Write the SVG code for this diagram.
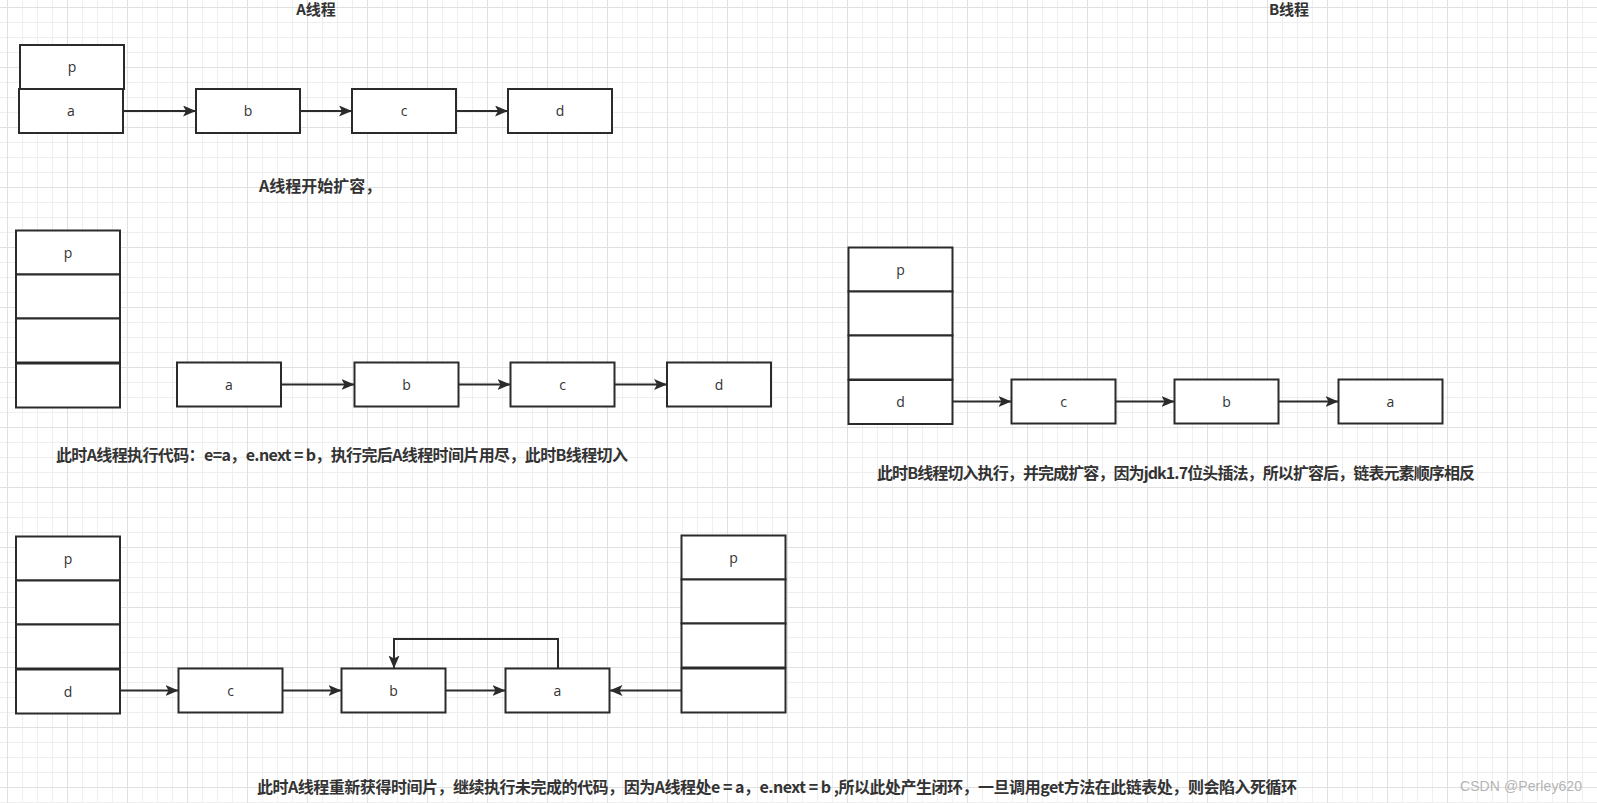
<svg xmlns="http://www.w3.org/2000/svg" width="1597" height="803" viewBox="0 0 1597 803">
<defs>
<pattern id="minor" patternUnits="userSpaceOnUse" x="7" y="7" width="15" height="15">
<rect x="0" y="0" width="1" height="15" fill="#efefef"/>
<rect x="0" y="0" width="15" height="1" fill="#efefef"/>
</pattern>
<pattern id="major" patternUnits="userSpaceOnUse" x="7" y="7" width="60" height="60">
<rect x="0" y="0" width="1" height="60" fill="#e0e0e0"/>
<rect x="0" y="0" width="60" height="1" fill="#e0e0e0"/>
</pattern>
<marker id="arr" markerUnits="userSpaceOnUse" markerWidth="14" markerHeight="12" refX="13" refY="5.5" orient="auto">
<path d="M0,0 L13,5.5 L0,11 L3,5.5 Z" fill="#2b2b2b"/>
</marker>
</defs>
<style>
.box{fill:#ffffff;stroke:#2b2b2b;stroke-width:2}
.lbl{font-family:"Open Sans","Noto Sans CJK SC",sans-serif;font-size:14px;fill:#333333;text-anchor:middle}
.note{font-family:"Noto Sans CJK SC","Liberation Sans",sans-serif;font-size:16px;font-weight:bold;fill:#333333}
.title{font-family:"Noto Sans CJK SC","Liberation Sans",sans-serif;font-size:15px;font-weight:bold;fill:#333333;text-anchor:middle}
.edge{fill:none;stroke:#2b2b2b;stroke-width:2;marker-end:url(#arr)}
.wm{font-family:"Liberation Sans","Noto Sans CJK SC",sans-serif;font-size:14px;fill:#b4b4b4}
</style>
<rect x="0" y="0" width="1597" height="803" fill="#ffffff"/>
<rect x="0" y="0" width="1597" height="803" fill="url(#minor)"/>
<rect x="0" y="0" width="1597" height="803" fill="url(#major)"/>

<!-- Titles and notes -->
<text class="title" x="316" y="15">A线程</text>
<text class="title" x="1289" y="15">B线程</text>
<text class="note" x="259" y="192">A线程开始扩容，</text>
<text class="note" x="56" y="461" textLength="572">此时A线程执行代码：e=a，e.next = b，执行完后A线程时间片用尽，此时B线程切入</text>
<text class="note" x="877" y="479" textLength="598">此时B线程切入执行，并完成扩容，因为jdk1.7位头插法，所以扩容后，链表元素顺序相反</text>
<text class="note" x="257" y="793" textLength="1040">此时A线程重新获得时间片，继续执行未完成的代码，因为A线程处e = a，e.next = b ,所以此处产生闭环，一旦调用get方法在此链表处，则会陷入死循环</text>
<text class="wm" x="1460" y="791" textLength="122">CSDN @Perley620</text>

<!-- Section 1 -->
<g id="s1-p"><rect class="box" x="20" y="45" width="104" height="44"/><text class="lbl" x="72" y="72">p</text></g>
<g id="s1-a"><rect class="box" x="19" y="89" width="104" height="44"/><text class="lbl" x="71" y="116">a</text></g>
<g id="s1-b"><rect class="box" x="196" y="89" width="104" height="44"/><text class="lbl" x="248" y="116">b</text></g>
<g id="s1-c"><rect class="box" x="352" y="89" width="104" height="44"/><text class="lbl" x="404" y="116">c</text></g>
<g id="s1-d"><rect class="box" x="508" y="89" width="104" height="44"/><text class="lbl" x="560" y="116">d</text></g>

<!-- Section 2 -->
<g id="s2-table">
<rect class="box" x="16" y="230.5" width="104" height="44"/>
<rect class="box" x="16" y="274.5" width="104" height="44"/>
<rect class="box" x="16" y="318.5" width="104" height="44"/>
<rect class="box" x="16" y="363.5" width="104" height="44"/>
<text class="lbl" x="68" y="257.5">p</text>
</g>
<g id="s2-a"><rect class="box" x="177" y="362.5" width="104" height="44"/><text class="lbl" x="229" y="389.5">a</text></g>
<g id="s2-b"><rect class="box" x="354.5" y="362.5" width="104" height="44"/><text class="lbl" x="406.5" y="389.5">b</text></g>
<g id="s2-c"><rect class="box" x="510.5" y="362.5" width="104" height="44"/><text class="lbl" x="562.5" y="389.5">c</text></g>
<g id="s2-d"><rect class="box" x="667" y="362.5" width="104" height="44"/><text class="lbl" x="719" y="389.5">d</text></g>

<!-- Section 3 (B thread) -->
<g id="s3-table">
<rect class="box" x="848.5" y="247.5" width="104" height="44"/>
<rect class="box" x="848.5" y="291.5" width="104" height="44"/>
<rect class="box" x="848.5" y="335.5" width="104" height="44"/>
<rect class="box" x="848.5" y="380" width="104" height="44"/>
<text class="lbl" x="900.5" y="274.5">p</text>
<text class="lbl" x="900.5" y="407">d</text>
</g>
<g id="s3-c"><rect class="box" x="1011.5" y="379.5" width="104" height="44"/><text class="lbl" x="1063.5" y="406.5">c</text></g>
<g id="s3-b"><rect class="box" x="1174.5" y="379.5" width="104" height="44"/><text class="lbl" x="1226.5" y="406.5">b</text></g>
<g id="s3-a"><rect class="box" x="1338.5" y="379.5" width="104" height="44"/><text class="lbl" x="1390.5" y="406.5">a</text></g>

<!-- Section 4 -->
<g id="s4-table-left">
<rect class="box" x="16" y="536.5" width="104" height="44"/>
<rect class="box" x="16" y="580.5" width="104" height="44"/>
<rect class="box" x="16" y="624.5" width="104" height="44"/>
<rect class="box" x="16" y="669.5" width="104" height="44"/>
<text class="lbl" x="68" y="563.5">p</text>
<text class="lbl" x="68" y="696.5">d</text>
</g>
<g id="s4-c"><rect class="box" x="178.5" y="668.5" width="104" height="44"/><text class="lbl" x="230.5" y="695.5">c</text></g>
<g id="s4-b"><rect class="box" x="341.5" y="668.5" width="104" height="44"/><text class="lbl" x="393.5" y="695.5">b</text></g>
<g id="s4-a"><rect class="box" x="505.5" y="668.5" width="104" height="44"/><text class="lbl" x="557.5" y="695.5">a</text></g>
<g id="s4-table-right">
<rect class="box" x="681.5" y="535.5" width="104" height="44"/>
<rect class="box" x="681.5" y="579.5" width="104" height="44"/>
<rect class="box" x="681.5" y="623.5" width="104" height="44"/>
<rect class="box" x="681.5" y="668.5" width="104" height="44"/>
<text class="lbl" x="733.5" y="562.5">p</text>
</g>

<!-- Connectors -->
<g id="connectors">
<path class="edge" d="M123,111 H196"/>
<path class="edge" d="M300,111 H352"/>
<path class="edge" d="M456,111 H508"/>
<path class="edge" d="M281,384.5 H354.5"/>
<path class="edge" d="M458.5,384.5 H510.5"/>
<path class="edge" d="M614.5,384.5 H667"/>
<path class="edge" d="M952.5,401.5 H1011.5"/>
<path class="edge" d="M1115.5,401.5 H1174.5"/>
<path class="edge" d="M1278.5,401.5 H1338.5"/>
<path class="edge" d="M120,690.5 H178.5"/>
<path class="edge" d="M282.5,690.5 H341.5"/>
<path class="edge" d="M445.5,690.5 H505.5"/>
<path class="edge" d="M681.5,690.5 H609.5"/>
<path class="edge" d="M558,668.5 V639 H394 V668.5"/>
</g>
</svg>
